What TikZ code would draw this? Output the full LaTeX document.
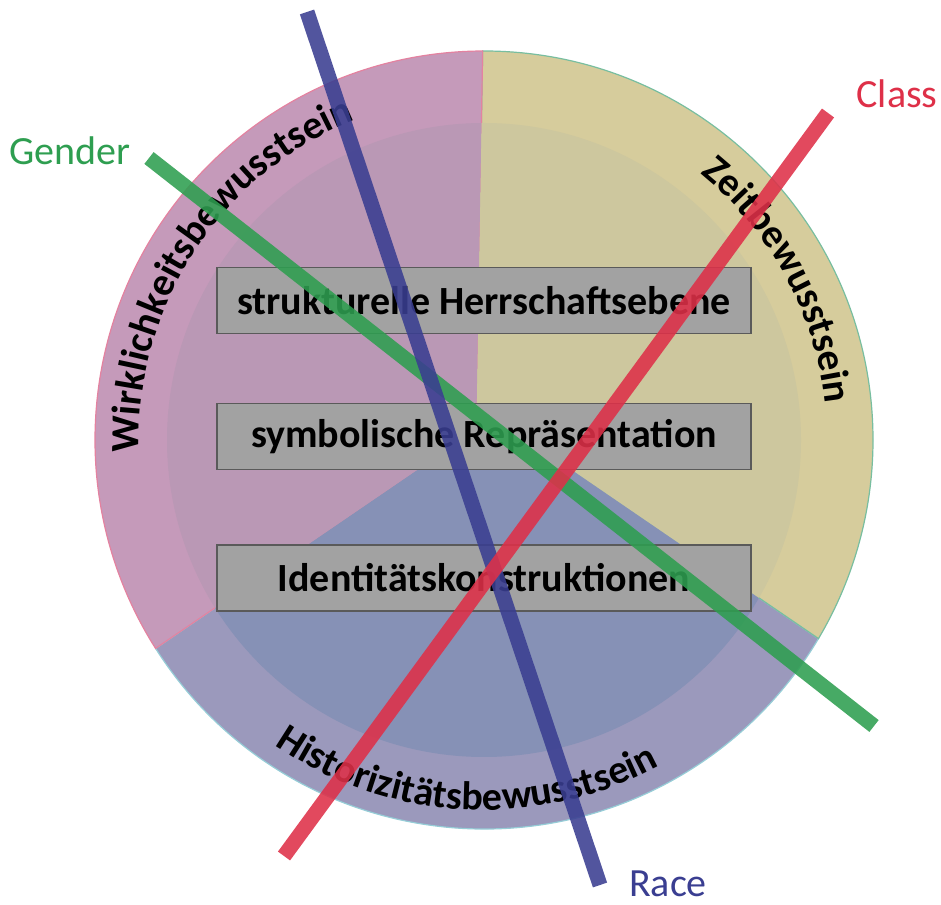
\documentclass[tikz,border=0pt]{standalone}
\usepackage{fontspec}
\setmainfont{Carlito}
\usetikzlibrary{decorations.text}

\definecolor{rosaaussen}{RGB}{197,154,186}
\definecolor{rosainnen}{RGB}{186,152,181}
\definecolor{rosarand}{RGB}{228,130,160}
\definecolor{gelbaussen}{RGB}{214,204,156}
\definecolor{gelbinnen}{RGB}{205,199,158}
\definecolor{gelbrand}{RGB}{120,190,160}
\definecolor{blauaussen}{RGB}{155,153,188}
\definecolor{blauinnen}{RGB}{134,145,182}
\definecolor{blaurand}{RGB}{150,205,215}
\definecolor{kastenfill}{RGB}{162,162,162}
\definecolor{kastenrand}{RGB}{90,90,90}
\definecolor{racefarbe}{RGB}{58,62,145}
\definecolor{genderfarbe}{RGB}{46,158,80}
\definecolor{classfarbe}{RGB}{222,48,72}

\newcommand\bogenfont{\fontsize{20}{24}\selectfont}

\begin{document}
\begin{tikzpicture}[
	x=0.5pt, y=0.5pt,
	ebene/.style={ draw=kastenrand, fill=kastenfill, line width=0.8pt, minimum width=267pt, minimum height=33pt, inner sep=0pt, font=\bogenfont\bfseries },
	achse/.style={ line width=7.5pt, opacity=0.88 },
	etikett/.style={ font=\bogenfont, anchor=base },
	bogen/.style={ decorate, decoration={ text along path, text align=center, text={|\bogenfont\bfseries|#1} } }
]

\useasboundingbox (0,0) rectangle (941,904);

\coordinate (O) at (484,464);
\coordinate (J) at (476,462);

\filldraw[fill=blauaussen, draw=blaurand, line width=0.6pt] ([shift={(484,464)}]212.4:389) arc[start angle=212.4, end angle=329.3, radius=389] -- (572,434) -- (J) -- (417,434) -- cycle;
\filldraw[fill=gelbaussen, draw=gelbrand, line width=0.6pt] (J) -- ([shift={(484,464)}]90.2:389) arc[start angle=90.2, end angle=-30.7, radius=389] -- (572,434) -- cycle;
\filldraw[fill=rosaaussen, draw=rosarand, line width=0.6pt] (J) -- ([shift={(484,464)}]90.2:389) arc[start angle=90.2, end angle=212.4, radius=389] -- (417,434) -- cycle;

\begin{scope}
	\clip (O) circle[radius=317];
	\fill[blauinnen] ([shift={(484,464)}]212.4:389) arc[start angle=212.4, end angle=329.3, radius=389] -- (572,434) -- (J) -- (417,434) -- cycle;
	\fill[gelbinnen] (J) -- ([shift={(484,464)}]90.2:389) arc[start angle=90.2, end angle=-30.7, radius=389] -- (572,434) -- cycle;
	\fill[rosainnen] (J) -- ([shift={(484,464)}]90.2:389) arc[start angle=90.2, end angle=212.4, radius=389] -- (417,434) -- cycle;
\end{scope}

\path[bogen=Wirklichkeitsbewusstsein] ([shift={(484,464)}]202:345) arc[start angle=202, end angle=92, radius=345];
\path[bogen=Zeitbewusstsein] ([shift={(484,464)}]69:343) arc[start angle=69, end angle=-12, radius=343];
\path[bogen=Historizitätsbewusstsein] ([shift={(484,464)}]210:370) arc[start angle=210, end angle=324, radius=370];

\node[ebene] at (484,603.5) (struktur) {strukturelle Herrschaftsebene};
\node[ebene] at (484,467.5) (symbol) {symbolische Repräsentation};
\node[ebene] at (484,326) (identitaet) {Identitätskonstruktionen};

\coordinate (gender-a) at (149,746);
\coordinate (gender-b) at (874,178);
\coordinate (race-a) at (307,892);
\coordinate (race-b) at (600,19);
\coordinate (class-a) at (828,791);
\coordinate (class-b) at (284,48);
\draw[achse, genderfarbe] (gender-a) -- (gender-b);
\draw[achse, racefarbe] (race-a) -- (race-b);
\draw[achse, classfarbe] (class-a) -- (class-b);

\node[etikett, text=genderfarbe] at (70,739) (gender) {Gender};
\node[etikett, text=classfarbe] at (897,796) (class) {Class};
\node[etikett, text=racefarbe] at (668,8) (race) {Race};

\end{tikzpicture}
\end{document}
